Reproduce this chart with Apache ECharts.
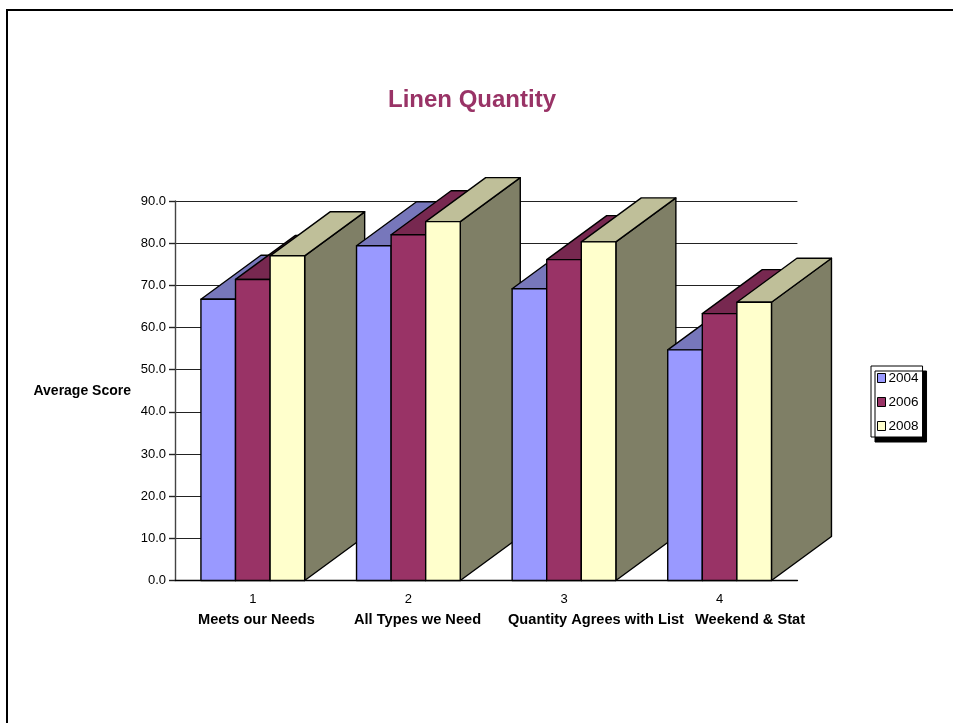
<!DOCTYPE html>
<html>
<head>
<meta charset="utf-8">
<style>html,body{margin:0;padding:0;background:#fff}#chart{width:953px;height:723px}</style>
<script src="https://cdn.jsdelivr.net/npm/echarts@6/dist/echarts.min.js"></script>
</head>
<body>
<div id="chart"></div>
<script>
// Survey scores per question, one array per survey year
const categories = ['1', '2', '3', '4'];
const questions = ['Meets our Needs', 'All Types we Need', 'Quantity Agrees with List', 'Weekend & Stat'];
const years = ['2004', '2006', '2008'];
const scores2004 = [66.7, 79.4, 69.2, 54.7];
const scores2006 = [71.4, 82.0, 76.1, 63.3];
const scores2008 = [77.0, 85.1, 80.3, 66.0];

// Left edge of each question caption along the shared line below the axis
const questionLeft = [198, 354, 508, 695];

const FONT = '"Liberation Sans", Arial, sans-serif';
const DEPTH_X = 60, DEPTH_Y = 44;
const faces = [
  { front: '#9999FF', top: '#7777BB', side: '#737399' },
  { front: '#993366', top: '#772850', side: '#732650' },
  { front: '#FFFFCC', top: '#BFBF99', side: '#7F7F66' }
];

function box(seriesIndex) {
  return function (params, api) {
    const cat = api.value(0);
    const top = api.coord([cat, api.value(1)]);
    const base = api.coord([cat, 0]);
    const barW = api.size([1, 0])[0] * (2 / 3) / 3;
    const x0 = top[0] - 1.5 * barW + seriesIndex * barW;
    const x1 = x0 + barW;
    const f = faces[seriesIndex];
    const z2 = cat * 10 + seriesIndex;
    const edge = { stroke: '#000', lineWidth: 1.4, lineJoin: 'round' };
    const face = (points, fill) => ({
      type: 'polygon', z2,
      shape: { points },
      style: Object.assign({ fill }, edge)
    });
    return {
      type: 'group',
      children: [
        face([[x1, base[1]], [x1 + DEPTH_X, base[1] - DEPTH_Y], [x1 + DEPTH_X, top[1] - DEPTH_Y], [x1, top[1]]], f.side),
        face([[x0, top[1]], [x0 + DEPTH_X, top[1] - DEPTH_Y], [x1 + DEPTH_X, top[1] - DEPTH_Y], [x1, top[1]]], f.top),
        face([[x0, base[1]], [x0, top[1]], [x1, top[1]], [x1, base[1]]], f.front)
      ]
    };
  };
}

const allScores = [scores2004, scores2006, scores2008];

const chart = echarts.init(document.getElementById('chart'), null, { renderer: 'canvas' });
chart.setOption({
  animation: false,
  backgroundColor: '#fff',
  textStyle: { fontFamily: FONT },
  title: {
    text: 'Linen Quantity',
    left: 467,
    top: 83,
    textAlign: 'center',
    textStyle: { fontFamily: FONT, fontSize: 24, fontWeight: 'bold', color: '#993366' }
  },
  grid: { left: 175, top: 201, width: 622.4, height: 379.5, containLabel: false },
  xAxis: {
    type: 'category',
    data: categories,
    axisLine: { lineStyle: { color: '#000', width: 1.4 } },
    axisTick: { show: false },
    axisLabel: { margin: 12, fontSize: 13, color: '#000', fontFamily: FONT },
    splitLine: { show: false }
  },
  yAxis: {
    type: 'value',
    min: 0,
    max: 90,
    interval: 10,
    name: 'Average Score',
    nameLocation: 'middle',
    nameRotate: 0,
    nameGap: 44,
    nameTextStyle: { fontFamily: FONT, fontSize: 14, fontWeight: 'bold', color: '#000' },
    axisLine: { show: true, lineStyle: { color: '#444', width: 1.4 } },
    axisTick: { show: true, length: 6, lineStyle: { color: '#222', width: 1.4 } },
    axisLabel: {
      margin: 9, fontSize: 13, color: '#000', fontFamily: FONT, padding: [2, 0, 0, 0],
      formatter: v => v.toFixed(1)
    },
    splitLine: { show: true, lineStyle: { color: '#222', width: 1.2 } }
  },
  legend: {
    orient: 'vertical',
    left: 871,
    top: 366,
    padding: [5, 4, 4, 6],
    itemWidth: 8,
    itemHeight: 9,
    itemGap: 10,
    icon: 'rect',
    backgroundColor: '#fff',
    borderColor: '#000',
    borderWidth: 1,
    shadowColor: '#000',
    shadowBlur: 0,
    shadowOffsetX: 4,
    shadowOffsetY: 5,
    selectedMode: false,
    itemStyle: { borderColor: '#000', borderWidth: 1 },
    textStyle: { fontFamily: FONT, fontSize: 13.5, color: '#000', padding: [0, 0, 0, -2], lineHeight: 14 },
    data: years
  },
  series: years.map((year, i) => ({
    name: year,
    type: 'custom',
    renderItem: box(i),
    clip: false,
    itemStyle: { color: faces[i].front },
    encode: { x: 0, y: 1 },
    data: allScores[i].map((v, c) => [c, v])
  })),
  graphic: [
    {
      type: 'rect', silent: true, z: 0,
      shape: { x: 7, y: 10, width: 980, height: 760 },
      style: { fill: 'transparent', stroke: '#000', lineWidth: 2 }
    }
  ].concat(questions.map((q, i) => ({
    type: 'text', silent: true,
    x: questionLeft[i], y: 620,
    style: {
      text: q, fontFamily: FONT, fontSize: 14.6, fontWeight: 'bold', fill: '#000',
      textAlign: 'left', textVerticalAlign: 'middle'
    }
  })))
});
</script>
</body>
</html>
